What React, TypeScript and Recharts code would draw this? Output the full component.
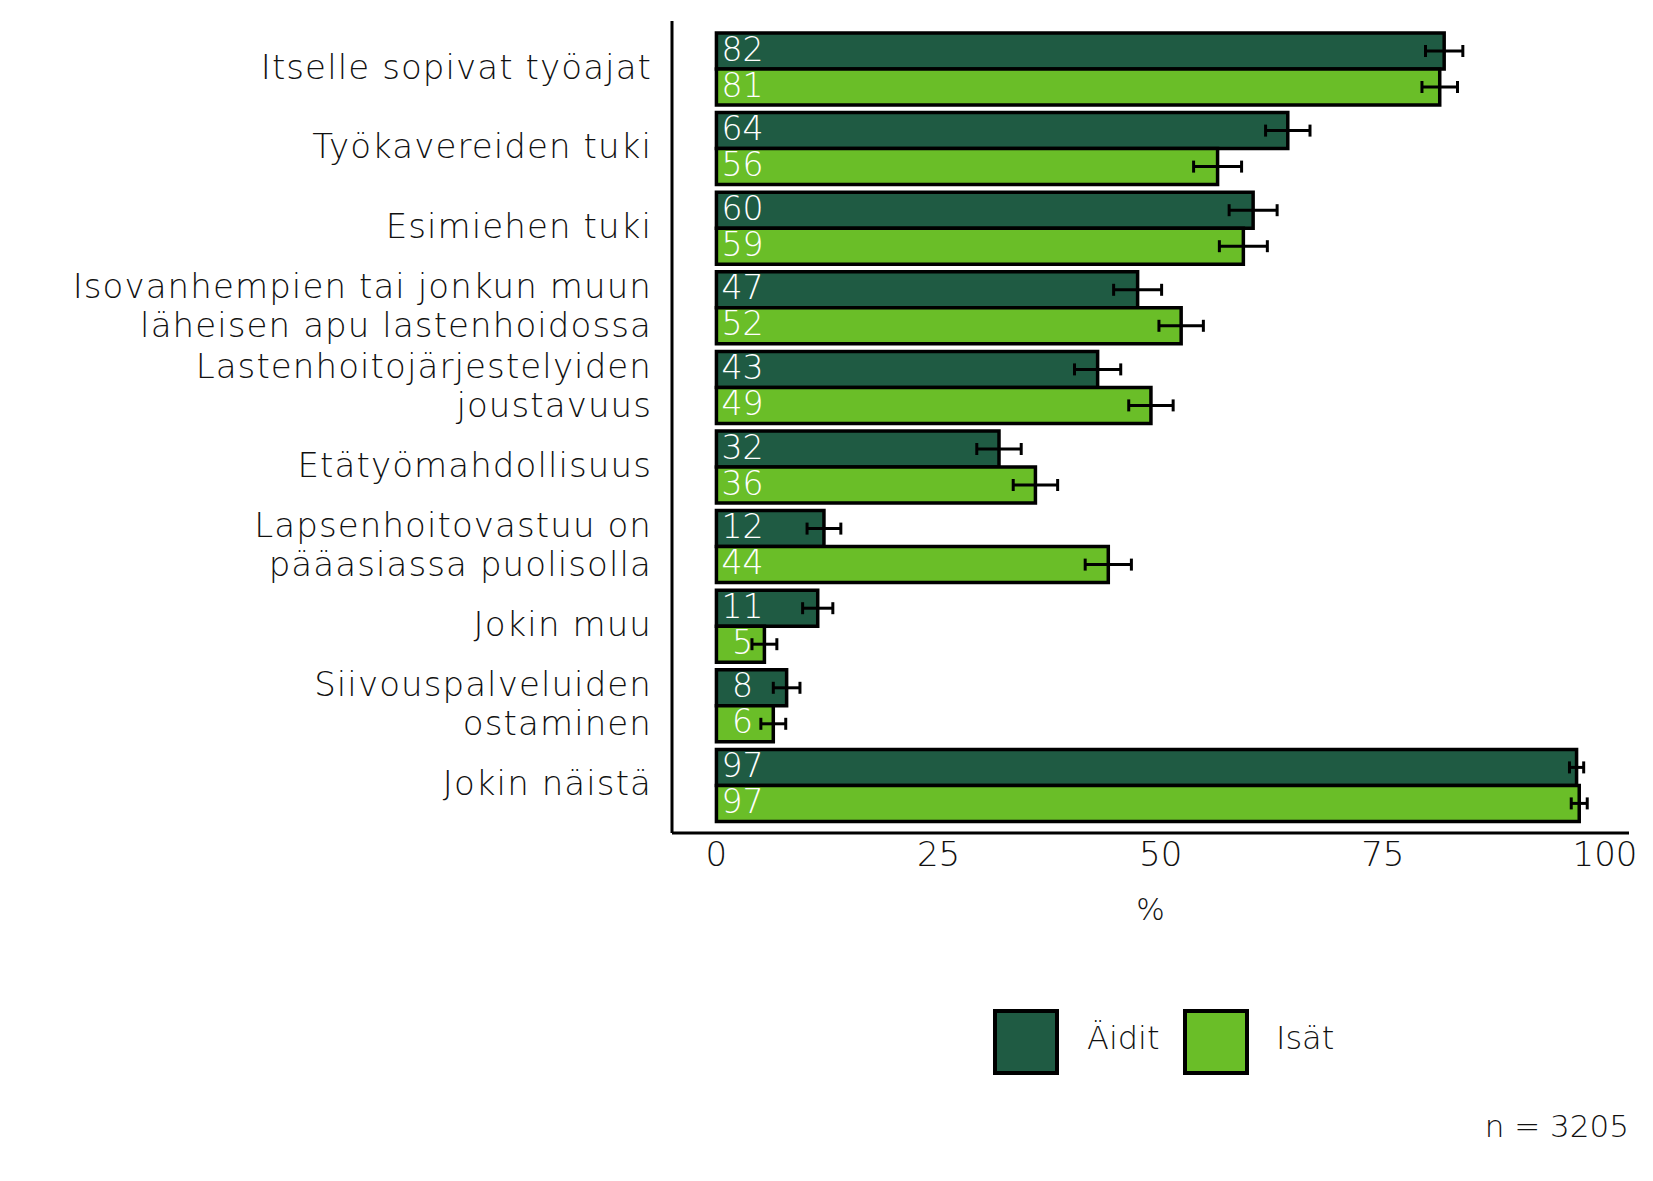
import React from 'react';
import { BarChart, Bar, XAxis, YAxis, ErrorBar, LabelList } from 'recharts';

const categories = [
  'Itselle sopivat työajat',
  'Työkavereiden tuki',
  'Esimiehen tuki',
  'Isovanhempien tai jonkun muun\nläheisen apu lastenhoidossa',
  'Lastenhoitojärjestelyiden\njoustavuus',
  'Etätyömahdollisuus',
  'Lapsenhoitovastuu on\npääasiassa puolisolla',
  'Jokin muu',
  'Siivouspalveluiden\nostaminen',
  'Jokin näistä',
];
const aiditValues = [81.9, 64.3, 60.4, 47.4, 42.9, 31.8, 12.1, 11.4, 7.9, 96.8];
const isatValues = [81.4, 56.4, 59.3, 52.3, 48.9, 35.9, 44.1, 5.4, 6.4, 97.1];
const aiditCI = [2.1, 2.5, 2.7, 2.7, 2.6, 2.5, 1.9, 1.7, 1.5, 0.8];
const isatCI = [2.0, 2.7, 2.7, 2.5, 2.5, 2.5, 2.6, 1.4, 1.4, 0.9];
const xTicks = [0, 25, 50, 75, 100];
const seriesNames = ['Äidit', 'Isät'];
const sampleNote = 'n = 3205';

const DARK = '#1f5b43';
const LIGHT = '#6abe28';
const FONT = '"DejaVu Sans", "Open Sans", sans-serif';
const W = 200;

const data = categories.map((name, i) => ({
  name,
  aidit: aiditValues[i],
  isat: isatValues[i],
  ciA: aiditCI[i],
  ciI: isatCI[i],
}));

const YTick = (props: any) => {
  const { x, y, payload } = props;
  const lines = String(payload.value).split('\n');
  const lh = 39;
  const start = -((lines.length - 1) * lh) / 2;
  return (
    <text x={x} y={y} textAnchor="end" fontSize={34} letterSpacing={1.1} fontWeight={W} fill="#111" fontFamily={FONT}>
      {lines.map((l, i) => (
        <tspan key={i} x={x} y={y + start + i * lh - 2} dy="0.35em">
          {l}
        </tspan>
      ))}
    </text>
  );
};

const BarLabel = (props: any) => {
  const { x, y, height, value } = props;
  return (
    <text
      x={x + 26}
      y={y + height / 2 - 2}
      textAnchor="middle"
      dominantBaseline="central"
      fill="#fff"
      fontSize={33}
      fontWeight={W}
      fontFamily={FONT}
    >
      {Math.round(value)}
    </text>
  );
};

export default function App() {
  return (
    <div style={{ position: 'absolute', left: 0, top: 0, width: 1653, height: 1181, background: '#fff', fontFamily: FONT, fontWeight: W }}>
      <BarChart
        width={1653}
        height={1181}
        data={data}
        layout="vertical"
        margin={{ top: 21, right: 24, bottom: 258, left: 0 }}
        barCategoryGap={4}
        barGap={0}
      >
        <XAxis
          type="number"
          domain={[-5, 102.7]}
          ticks={xTicks}
          allowDataOverflow
          tickLine={false}
          tickSize={0}
          tickMargin={9}
          height={90}
          axisLine={{ stroke: '#000', strokeWidth: 3 }}
          tick={{ fontSize: 34, fill: '#111', fontFamily: FONT, fontWeight: W }}
          label={{ value: '%', position: 'insideBottom', offset: 3, fontSize: 30, fill: '#111', fontFamily: FONT, fontWeight: W }}
        />
        <YAxis
          type="category"
          dataKey="name"
          width={672}
          tickLine={false}
          tickSize={0}
          tickMargin={20}
          padding={{ top: 8, bottom: 8 }}
          axisLine={{ stroke: '#000', strokeWidth: 3 }}
          tick={<YTick />}
          interval={0}
        />
        <Bar dataKey="aidit" name={seriesNames[0]} fill={DARK} stroke="#000" strokeWidth={3.5} isAnimationActive={false}>
          <ErrorBar dataKey="ciA" direction="x" width={6} stroke="#000" strokeWidth={3} />
          <LabelList dataKey="aidit" content={<BarLabel />} />
        </Bar>
        <Bar dataKey="isat" name={seriesNames[1]} fill={LIGHT} stroke="#000" strokeWidth={3.5} isAnimationActive={false}>
          <ErrorBar dataKey="ciI" direction="x" width={6} stroke="#000" strokeWidth={3} />
          <LabelList dataKey="isat" content={<BarLabel />} />
        </Bar>
      </BarChart>
      <div style={{ position: 'absolute', left: 993, top: 1009, width: 66, height: 66, boxSizing: 'border-box', border: '4px solid #000', background: DARK }} />
      <div style={{ position: 'absolute', left: 1087, top: 1018, fontSize: 32, color: '#111', lineHeight: '40px' }}>{seriesNames[0]}</div>
      <div style={{ position: 'absolute', left: 1183, top: 1009, width: 66, height: 66, boxSizing: 'border-box', border: '4px solid #000', background: LIGHT }} />
      <div style={{ position: 'absolute', left: 1276, top: 1018, fontSize: 32, color: '#111', lineHeight: '40px' }}>{seriesNames[1]}</div>
      <div style={{ position: 'absolute', right: 24, top: 1106, fontSize: 31, color: '#111', lineHeight: '40px' }}>{sampleNote}</div>
    </div>
  );
}
